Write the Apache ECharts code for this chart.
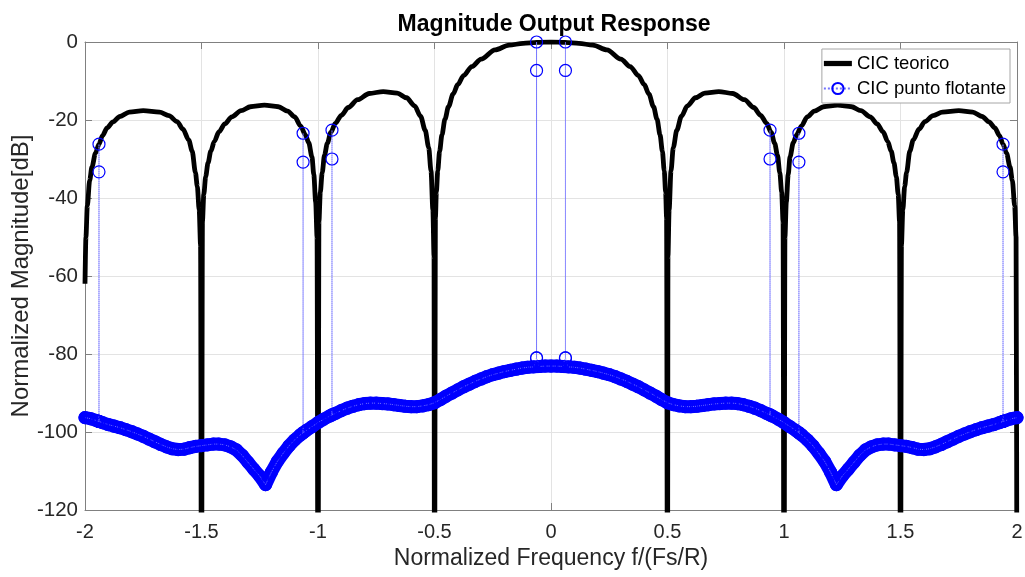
<!DOCTYPE html>
<html>
<head>
<meta charset="utf-8">
<title>Magnitude Output Response</title>
<script src="https://cdn.jsdelivr.net/npm/echarts@6/dist/echarts.min.js"></script>
<style>
    html, body { margin: 0; padding: 0; background: #fff; }
    #main { width: 1025px; height: 577px; }
</style>
</head>
<body>
<div id="main"></div>
<script>
// CIC teorico -- frequency (f/(Fs/R)) and magnitude in dB
var theoFreq = [
    -2, -1.996, -1.99, -1.98, -1.97, -1.955, -1.94, -1.925, -1.905, -1.88, -1.85, -1.81, -1.75, -1.68, -1.64, -1.605, -1.58, -1.555, -1.54, -1.526, -1.518, -1.51, -1.504, -1.5,
    -1.496, -1.49, -1.482, -1.472, -1.46, -1.445, -1.425, -1.4, -1.37, -1.33, -1.29, -1.23, -1.17, -1.13, -1.1, -1.075, -1.054, -1.04, -1.026, -1.018, -1.01, -1.004, -1,
    -0.996, -0.99, -0.982, -0.972, -0.96, -0.945, -0.925, -0.9, -0.87, -0.83, -0.78, -0.72, -0.66, -0.62, -0.585, -0.56, -0.54, -0.525, -0.515, -0.507, -0.502, -0.5,
    -0.496, -0.492, -0.486, -0.478, -0.468, -0.455, -0.44, -0.42, -0.4, -0.375, -0.34, -0.3, -0.24, -0.18, -0.12, -0.06, 0,
    0.06, 0.12, 0.18, 0.24, 0.3, 0.34, 0.375, 0.4, 0.42, 0.44, 0.455, 0.468, 0.478, 0.486, 0.492, 0.496, 0.5,
    0.502, 0.507, 0.515, 0.525, 0.54, 0.56, 0.585, 0.62, 0.66, 0.72, 0.78, 0.83, 0.87, 0.9, 0.925, 0.945, 0.96, 0.972, 0.982, 0.99, 0.996, 1,
    1.004, 1.01, 1.018, 1.026, 1.04, 1.054, 1.075, 1.1, 1.13, 1.17, 1.23, 1.29, 1.33, 1.37, 1.4, 1.425, 1.445, 1.46, 1.472, 1.482, 1.49, 1.496, 1.5,
    1.504, 1.51, 1.518, 1.526, 1.54, 1.555, 1.58, 1.605, 1.64, 1.68, 1.75, 1.81, 1.85, 1.88, 1.905, 1.925, 1.94, 1.955, 1.97, 1.98, 1.99, 1.996, 2
];
var theoMag = [
    -62, -50, -42, -35.5, -32, -28.5, -26.2, -24, -22, -20.5, -19.1, -18, -17.6, -18, -18.9, -20.4, -22.3, -25.1, -28, -33.5, -37, -43, -52, -160,
    -46, -39, -34.5, -31, -28, -25.5, -23, -21, -19.2, -17.6, -16.6, -16.2, -16.6, -17.7, -19.2, -21.5, -23.8, -25.8, -29.4, -34, -41, -50, -160,
    -46, -38.5, -33.5, -29, -26, -23.2, -20.8, -18.8, -16.8, -14.8, -13.2, -12.7, -13.1, -14.3, -16.4, -19, -22.6, -27, -33, -43, -55, -160,
    -45, -38.5, -33, -28, -23.8, -19.8, -16.6, -13.3, -10.9, -8.6, -6.3, -4.4, -2, -0.8, -0.35, -0.1, 0,
    -0.1, -0.35, -0.8, -2, -4.4, -6.3, -8.6, -10.9, -13.3, -16.6, -19.8, -23.8, -28, -33, -38.5, -45, -160,
    -55, -43, -33, -27, -22.6, -19, -16.4, -14.3, -13.1, -12.7, -13.2, -14.8, -16.8, -18.8, -20.8, -23.2, -26, -29, -33.5, -38.5, -46, -160,
    -50, -41, -34, -29.4, -25.8, -23.8, -21.5, -19.2, -17.7, -16.6, -16.2, -16.6, -17.6, -19.2, -21, -23, -25.5, -28, -31, -34.5, -39, -46, -160,
    -52, -43, -37, -33.5, -28, -25.1, -22.3, -20.4, -18.9, -18, -17.6, -18, -19.1, -20.5, -22, -24, -26.2, -28.5, -32, -35.5, -42, -50, -160
];

// CIC punto flotante -- the dense low level band
var bandFreq = [
    -2, -1.975, -1.95, -1.925, -1.9, -1.875, -1.85, -1.825, -1.8, -1.775,
    -1.75, -1.725, -1.7, -1.675, -1.65, -1.625, -1.6, -1.575, -1.55, -1.525,
    -1.5, -1.475, -1.45, -1.425, -1.4, -1.375, -1.35, -1.325, -1.3, -1.275,
    -1.25, -1.225, -1.2, -1.175, -1.15, -1.125, -1.1, -1.075, -1.05, -1.025,
    -1, -0.975, -0.95, -0.925, -0.9, -0.875, -0.85, -0.825, -0.8, -0.775,
    -0.75, -0.725, -0.7, -0.675, -0.65, -0.625, -0.6, -0.575, -0.55, -0.525,
    -0.5, -0.475, -0.45, -0.425, -0.4, -0.375, -0.35, -0.325, -0.3, -0.275,
    -0.25, -0.225, -0.2, -0.175, -0.15, -0.125, -0.1, -0.075, -0.05, -0.025,
    0,
    0.025, 0.05, 0.075, 0.1, 0.125, 0.15, 0.175, 0.2, 0.225, 0.25,
    0.275, 0.3, 0.325, 0.35, 0.375, 0.4, 0.425, 0.45, 0.475, 0.5,
    0.525, 0.55, 0.575, 0.6, 0.625, 0.65, 0.675, 0.7, 0.725, 0.75,
    0.775, 0.8, 0.825, 0.85, 0.875, 0.9, 0.925, 0.95, 0.975, 1,
    1.025, 1.05, 1.075, 1.1, 1.125, 1.15, 1.175, 1.2, 1.225, 1.25,
    1.275, 1.3, 1.325, 1.35, 1.375, 1.4, 1.425, 1.45, 1.475, 1.5,
    1.525, 1.55, 1.575, 1.6, 1.625, 1.65, 1.675, 1.7, 1.725, 1.75,
    1.775, 1.8, 1.825, 1.85, 1.875, 1.9, 1.925, 1.95, 1.975, 2
];
var bandMag = [
    -96.3, -96.6, -97.1, -97.6, -98.1, -98.5, -98.9, -99.4, -99.9, -100.5,
    -101.1, -101.8, -102.5, -103.2, -103.8, -104.3, -104.5, -104.4, -104.0, -103.7,
    -103.5, -103.3, -103.1, -103.1, -103.3, -103.8, -104.6, -106.0, -107.8, -109.6,
    -111.3, -113.5, -110.3, -107.6, -105.5, -103.6, -102.0, -100.7, -99.6, -98.6,
    -97.6, -96.7, -95.9, -95.2, -94.5, -93.9, -93.4, -93.0, -92.7, -92.6,
    -92.6, -92.7, -92.8, -93.0, -93.2, -93.4, -93.5, -93.5, -93.3, -93.0,
    -92.5, -91.7, -90.8, -90.0, -89.2, -88.4, -87.7, -87.0, -86.4, -85.8,
    -85.3, -84.9, -84.5, -84.2, -83.9, -83.6, -83.4, -83.3, -83.2, -83.1,
    -83.1,
    -83.1, -83.2, -83.3, -83.4, -83.6, -83.9, -84.2, -84.5, -84.9, -85.3,
    -85.8, -86.4, -87.0, -87.7, -88.4, -89.2, -90.0, -90.8, -91.7, -92.5,
    -93.0, -93.3, -93.5, -93.5, -93.4, -93.2, -93.0, -92.8, -92.7, -92.6,
    -92.6, -92.7, -93.0, -93.4, -93.9, -94.5, -95.2, -95.9, -96.7, -97.6,
    -98.6, -99.6, -100.7, -102.0, -103.6, -105.5, -107.6, -110.3, -113.5, -111.3,
    -109.6, -107.8, -106.0, -104.6, -103.8, -103.3, -103.1, -103.1, -103.3, -103.5,
    -103.7, -104.0, -104.4, -104.5, -104.3, -103.8, -103.2, -102.5, -101.8, -101.1,
    -100.5, -99.9, -99.4, -98.9, -98.5, -98.1, -97.6, -97.1, -96.6, -96.3
];

// CIC punto flotante -- isolated jumps (base on the band, then two high samples)
var spikeFreq = [-1.94, -1.064, -0.94, -0.062, 0.062, 0.94, 1.064, 1.94];
var spikeBase = [-97.3, -100.2, -95.6, -81, -81, -95.6, -100.2, -97.3];
var spikeHigh = [-26.2, -23.4, -22.6, 0, 0, -22.6, -23.4, -26.2];
var spikeLow = [-33.3, -30.8, -30.0, -7.3, -7.3, -30.0, -30.8, -33.3];

var FONT = "'Liberation Sans', Arial, Helvetica, sans-serif";
var AXIS_GREY = '#808080';
var TEXT_GREY = '#262626';

function pairs(xs, ys) {
    return xs.map(function (x, i) { return [x, ys[i]]; });
}

var theoData = pairs(theoFreq, theoMag);
var bandData = pairs(bandFreq, bandMag);

// merge the band with the jumps, in frequency order
var floatData = [];
var k = 0;
for (var i = 0; i < bandFreq.length; i++) {
    while (k < spikeFreq.length && spikeFreq[k] < bandFreq[i]) {
        floatData.push([spikeFreq[k], spikeBase[k]]);
        floatData.push([spikeFreq[k], spikeHigh[k]]);
        floatData.push([spikeFreq[k], spikeLow[k]]);
        floatData.push([spikeFreq[k], spikeBase[k]]);
        k++;
    }
    floatData.push([bandFreq[i], bandMag[i]]);
}

var chart = echarts.init(document.getElementById('main'));

function boxAxis(pos, min, max, interval) {
    return {
        type: 'value',
        position: pos,
        min: min,
        max: max,
        interval: interval,
        axisLine: { show: true, onZero: false, lineStyle: { color: AXIS_GREY, width: 1 } },
        axisTick: { show: true, inside: true, length: 7, lineStyle: { color: AXIS_GREY } },
        axisLabel: { show: false },
        splitLine: { show: false }
    };
}

var option = {
    animation: false,
    backgroundColor: '#fff',
    textStyle: { fontFamily: FONT },
    title: {
        text: 'Magnitude Output Response',
        left: 549,
        top: 8,
        textAlign: 'center',
        textStyle: { fontSize: 23, fontWeight: 'bold', color: '#000', fontFamily: FONT }
    },
    legend: {
        data: [
            { name: 'CIC teorico', icon: 'path://M0,0H32V6H0Z' },
            { name: 'CIC punto flotante' }
        ],
        orient: 'vertical',
        right: 15,
        top: 49,
        itemWidth: 28,
        itemHeight: 14,
        itemGap: 6,
        padding: [5, 4, 5, 1],
        backgroundColor: '#fff',
        borderColor: '#a6a6a6',
        borderWidth: 1,
        textStyle: { fontSize: 18.5, color: '#000', fontFamily: FONT }
    },
    grid: { left: 85, right: 8, top: 42, bottom: 67, outerBoundsMode: 'none', containLabel: false },
    xAxis: [
        {
            type: 'value',
            position: 'bottom',
            min: -2,
            max: 2,
            interval: 0.5,
            name: 'Normalized Frequency f/(Fs/R)',
            nameLocation: 'middle',
            nameGap: 28,
            nameTextStyle: { fontSize: 23, color: TEXT_GREY, fontFamily: FONT },
            axisLine: { show: true, onZero: false, lineStyle: { color: AXIS_GREY, width: 1 } },
            axisTick: { show: true, inside: true, length: 7, lineStyle: { color: AXIS_GREY } },
            axisLabel: { fontSize: 20, color: TEXT_GREY, margin: 12, fontFamily: FONT },
            splitLine: { show: true, lineStyle: { color: '#e3e3e3', width: 1 } }
        },
        boxAxis('top', -2, 2, 0.5)
    ],
    yAxis: [
        {
            type: 'value',
            position: 'left',
            min: -120,
            max: 0,
            interval: 20,
            name: 'Normalized Magnitude[dB]',
            nameLocation: 'middle',
            nameMoveOverlap: false,
            nameGap: 52,
            nameTextStyle: { fontSize: 24, color: TEXT_GREY, fontFamily: FONT },
            axisLine: { show: true, onZero: false, lineStyle: { color: AXIS_GREY, width: 1 } },
            axisTick: { show: true, inside: true, length: 7, lineStyle: { color: AXIS_GREY } },
            axisLabel: { fontSize: 20.5, color: TEXT_GREY, margin: 7, fontFamily: FONT },
            splitLine: { show: true, lineStyle: { color: '#e3e3e3', width: 1 } }
        },
        boxAxis('right', -120, 0, 20)
    ],
    series: [
        {
            name: 'CIC teorico',
            type: 'line',
            data: theoData,
            symbol: 'none',
            smooth: 0.3,
            smoothMonotone: 'x',
            clip: true,
            z: 2,
            lineStyle: { color: '#000', width: 4.8, join: 'round' },
            itemStyle: { color: '#000' },
            emphasis: { disabled: true }
        },
        {
            name: 'band',
            type: 'line',
            data: bandData,
            symbol: 'none',
            clip: true,
            silent: true,
            z: 3,
            lineStyle: { color: '#0000ff', width: 13, cap: 'round', join: 'round' },
            itemStyle: { color: '#0000ff' },
            emphasis: { disabled: true }
        },
        {
            name: 'CIC punto flotante',
            type: 'line',
            data: floatData,
            symbol: 'circle',
            symbolSize: 12,
            showAllSymbol: true,
            clip: true,
            z: 4,
            lineStyle: { color: '#7373ff', width: 1, type: 'dotted' },
            itemStyle: { color: 'rgba(255,255,255,0)', borderColor: '#0000ff', borderWidth: 1.2 },
            emphasis: { disabled: true }
        }
    ]
};

chart.setOption(option);
</script>
</body>
</html>
